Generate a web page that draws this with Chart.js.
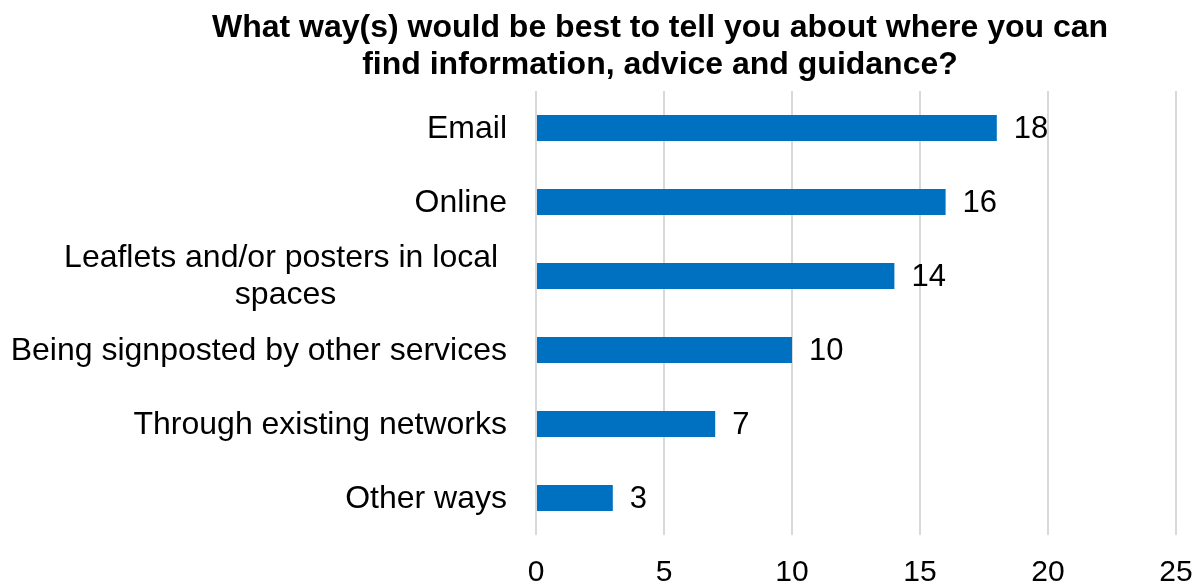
<!DOCTYPE html>
<html>
<head>
<meta charset="utf-8">
<script src="https://cdn.jsdelivr.net/npm/chart.js@4"></script>
<style>
  html, body { margin: 0; padding: 0; background: #fff; }
  #wrap { width: 1197px; height: 584px; }
</style>
</head>
<body>
<div id="wrap"><canvas id="myChart" width="1197" height="584"></canvas></div>
<script>
const titleLines = ['What way(s) would be best to tell you about where you can', 'find information, advice and guidance?'];
const categories = [
  ['Email'],
  ['Online'],
  ['Leaflets and/or posters in local ', 'spaces'],
  ['Being signposted by other services'],
  ['Through existing networks'],
  ['Other ways']
];
const counts = [18, 16, 14, 10, 7, 3];
const xTicks = [0, 5, 10, 15, 20, 25];

const FONT = "'Liberation Sans', Arial, sans-serif";

// title, category labels and value labels drawn on the canvas
const textPlugin = {
  id: 'texts',
  afterDraw(chart) {
    const ctx = chart.ctx;
    const area = chart.chartArea;
    const y = chart.scales.y;
    ctx.save();
    ctx.fillStyle = '#000';

    // title
    ctx.font = 'bold 32px ' + FONT;
    ctx.textAlign = 'center';
    ctx.textBaseline = 'middle';
    titleLines.forEach((line, i) => ctx.fillText(line, 660, 28 + i * 37));

    // category labels: block right aligned, lines centered inside block
    ctx.font = '32px ' + FONT;
    const right = area.left - 29;
    categories.forEach((lines, i) => {
      const cy = y.getPixelForValue(i) + 1;
      const w = Math.max(...lines.map(l => ctx.measureText(l).width));
      const cx = right - w / 2;
      const top = cy - (lines.length - 1) * 37 / 2;
      lines.forEach((l, j) => ctx.fillText(l, cx, top + j * 37));
    });

    // values after the bars
    ctx.font = '31px ' + FONT;
    ctx.textAlign = 'left';
    chart.getDatasetMeta(0).data.forEach((bar, i) => {
      ctx.fillText(String(counts[i]), bar.x + 17, bar.y + 1);
    });
    ctx.restore();
  }
};

new Chart(document.getElementById('myChart'), {
  type: 'bar',
  data: {
    labels: categories.map(c => c.join('')),
    datasets: [{
      data: counts,
      backgroundColor: '#0070C0',
      barPercentage: 0.35,
      categoryPercentage: 1
    }]
  },
  options: {
    indexAxis: 'y',
    responsive: false,
    animation: false,
    layout: { padding: { top: 91, right: 21, left: 0, bottom: 0 } },
    plugins: { legend: { display: false }, tooltip: { enabled: false } },
    scales: {
      x: {
        min: 0,
        max: 25,
        afterBuildTicks: s => { s.ticks = xTicks.map(v => ({ value: v })); },
        afterFit: s => { s.height = 49; s.paddingLeft = 0; s.paddingRight = 0; },
        grid: { color: '#d9d9d9', lineWidth: 2, drawTicks: false },
        border: { display: false },
        ticks: { color: '#000', padding: 20, font: { family: FONT, size: 30 } }
      },
      y: {
        afterFit: s => { s.width = 536; },
        grid: { display: false, drawTicks: false },
        border: { display: false },
        ticks: { display: false }
      }
    }
  },
  plugins: [textPlugin]
});
</script>
</body>
</html>
